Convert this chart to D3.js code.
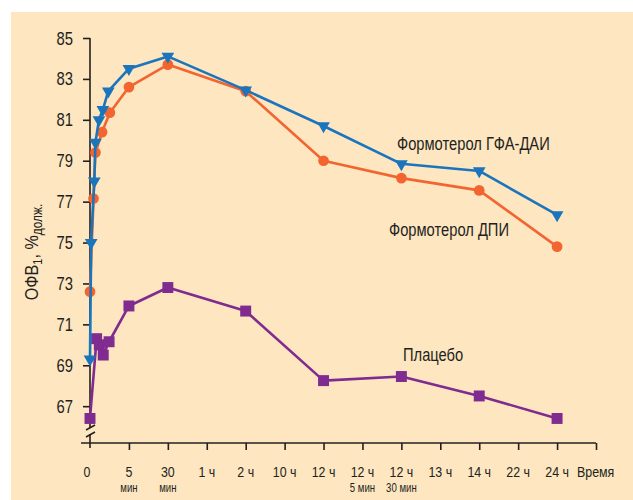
<!DOCTYPE html>
<html>
<head>
<meta charset="utf-8">
<script src="https://cdn.jsdelivr.net/npm/d3@7"></script>
<style>
  body { margin: 0; background: #fff; }
  svg text { font-family: "Liberation Sans", Arial, sans-serif; fill: #231f20; }
  .axis path, .axis line { stroke: #231f20; stroke-width: 1.6; }
</style>
</head>
<body>
<div id="chart"></div>
<script>
// x positions are in tick-slot units (0 = start, 1 = 5 min, 2 = 30 min, ...)
const xTicks = ["0", "5", "30", "1 ч", "2 ч", "10 ч", "12 ч", "12 ч", "12 ч", "13 ч", "14 ч", "22 ч", "24 ч"];
const xSub = ["", "мин", "мин", "", "", "", "", "5 мин", "30 мин", "", "", "", ""];
const yTicks = [67, 69, 71, 73, 75, 77, 79, 81, 83, 85];

const gfaPos = [0, 0.03, 0.11, 0.14, 0.23, 0.33, 0.47, 1, 2, 4, 6, 8, 10, 12];
const gfaVals = [69.3, 75.0, 78.0, 79.9, 81.0, 81.5, 82.4, 83.5, 84.1, 82.45, 80.7, 78.85, 78.5, 76.35];

const dpiPos = [0, 0.09, 0.14, 0.31, 0.51, 1, 2, 4, 6, 8, 10, 12];
const dpiVals = [72.6, 77.15, 79.4, 80.4, 81.35, 82.6, 83.7, 82.4, 79.0, 78.15, 77.55, 74.8];

const placeboPos = [0, 0.17, 0.24, 0.34, 0.49, 1, 2, 4, 6, 8, 10, 12];
const placeboVals = [66.4, 70.3, 70.0, 69.5, 70.15, 71.9, 72.8, 71.65, 68.25, 68.45, 67.5, 66.4];

const WIDTH = 633, HEIGHT = 500;
const BG = "#fde6c0";
const SX = 0.8; // horizontal squeeze to mimic the condensed face

const svg = d3.select("#chart").append("svg").attr("width", WIDTH).attr("height", HEIGHT);
svg.append("rect").attr("x", 11).attr("y", 12).attr("width", WIDTH - 11).attr("height", HEIGHT - 12).attr("fill", BG);

const xScale = d3.scaleLinear().domain([0, 13]).range([90, 596]);
const yScale = d3.scaleLinear().domain([65.2, 85]).range([443, 38]);

function label(parent, x, y, str, size, anchor, sx) {
  return parent.append("text")
    .attr("transform", `translate(${x},${y}) scale(${sx || SX},1)`)
    .attr("text-anchor", anchor || "start")
    .attr("font-size", size)
    .text(str);
}

// y axis
const yAxis = svg.append("g")
  .attr("class", "axis")
  .attr("transform", "translate(90,0)")
  .call(d3.axisLeft(yScale).tickValues(yTicks).tickSize(7).tickSizeOuter(0).tickFormat(""));
yAxis.select(".domain").attr("d", `M0,${yScale(85)}V${yScale.range()[0] + 5}`);
yTicks.forEach(v => label(svg, 73, yScale(v) + 6.5, v, 18.5, "end"));

// x axis
const xAxis = svg.append("g")
  .attr("class", "axis")
  .attr("transform", `translate(0,${yScale.range()[0]})`)
  .call(d3.axisBottom(xScale).tickValues(d3.range(1, 14)).tickSize(7).tickSizeOuter(0).tickFormat(""));
xAxis.select(".domain").attr("d", `M81,0H${xScale(13)}`);

xTicks.forEach((t, i) => {
  const x = xScale(i) - (i === 0 ? 3 : 0);
  label(svg, x, 477, t, 15.5, "middle");
  if (xSub[i]) label(svg, x, 492, xSub[i], 12, "middle");
});
label(svg, 577, 477, "Время", 15.5);

// axis break
svg.append("rect").attr("x", 86).attr("y", 428).attr("width", 8).attr("height", 6).attr("fill", BG);
[0, 7].forEach(dy => {
  svg.append("line")
    .attr("x1", 86).attr("y1", 430 + dy).attr("x2", 95).attr("y2", 425 + dy)
    .attr("stroke", "#231f20").attr("stroke-width", 1.5);
});

// y title
const yTitle = svg.append("text")
  .attr("transform", "translate(38,252) rotate(-90) scale(0.85,1)")
  .attr("text-anchor", "middle")
  .attr("font-size", 19);
yTitle.append("tspan").text("ОФВ");
yTitle.append("tspan").attr("font-size", 13).attr("dy", 4).text("1");
yTitle.append("tspan").attr("dy", -4).text(", %");
yTitle.append("tspan").attr("font-size", 14).attr("dy", 4).text("долж.");

const line = d3.line().x(d => xScale(d[0])).y(d => yScale(d[1]));

function drawSeries(pos, vals, color, symbol, size, rotate) {
  const data = pos.map((p, i) => [p, vals[i]]);
  svg.append("path").datum(data)
    .attr("d", line)
    .attr("fill", "none")
    .attr("stroke", color)
    .attr("stroke-width", 2.6)
    .attr("stroke-linejoin", "round");
  svg.append("g").selectAll("path").data(data).join("path")
    .attr("d", d3.symbol().type(symbol).size(size))
    .attr("transform", d => `translate(${xScale(d[0])},${yScale(d[1])}) rotate(${rotate})`)
    .attr("fill", color);
}

drawSeries(placeboPos, placeboVals, "#7f2b90", d3.symbolSquare, 120, 0);
drawSeries(dpiPos, dpiVals, "#f26531", d3.symbolCircle, 90, 0);
drawSeries(gfaPos, gfaVals, "#1a75bc", d3.symbolTriangle, 70, 180);

// series labels
label(svg, 397, 150, "Формотерол ГФА-ДАИ", 17.5, "start", 0.84);
label(svg, 389, 236, "Формотерол ДПИ", 17.5, "start", 0.84);
label(svg, 403, 361, "Плацебо", 17.5, "start", 0.84);
</script>
</body>
</html>
